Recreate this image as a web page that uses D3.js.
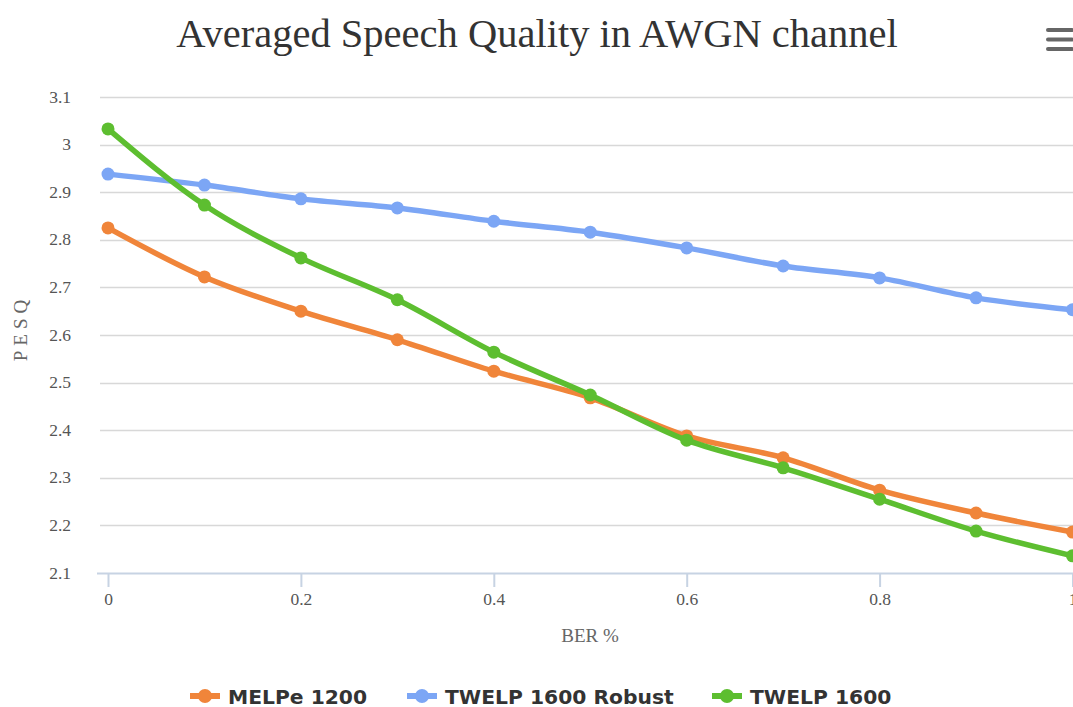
<!DOCTYPE html>
<html><head><meta charset="utf-8">
<script src="https://cdn.jsdelivr.net/npm/d3@7"></script>
<style>body{margin:0;background:#fff;overflow:hidden}</style>
</head><body>
<svg id="c" width="1073" height="707"></svg>
<script>
const berValues = [0, 0.1, 0.2, 0.3, 0.4, 0.5, 0.6, 0.7, 0.8, 0.9, 1];
const seriesNames = ["MELPe 1200", "TWELP 1600 Robust", "TWELP 1600"];
const melpe1200 = [2.825, 2.722, 2.650, 2.590, 2.524, 2.468, 2.388, 2.342, 2.274, 2.226, 2.186];
const twelpRobust = [2.938, 2.915, 2.886, 2.867, 2.839, 2.816, 2.783, 2.745, 2.720, 2.678, 2.653];
const twelp1600 = [3.033, 2.873, 2.762, 2.674, 2.564, 2.474, 2.379, 2.321, 2.255, 2.188, 2.136];
const yTicks = [2.1, 2.2, 2.3, 2.4, 2.5, 2.6, 2.7, 2.8, 2.9, 3, 3.1];
const xTicks = [0, 0.2, 0.4, 0.6, 0.8, 1];
const colors = ["#f0853a", "#7ca6f5", "#5dbe30"];

const svg = d3.select("#c");
const x = d3.scaleLinear().domain([0, 1]).range([108, 1072.5]);
const y = d3.scaleLinear().domain([2.1, 3.1]).range([573, 97]);
const serif = "'Liberation Serif', 'DejaVu Serif', serif";

// title
svg.append("text").attr("x", 537).attr("y", 47).attr("text-anchor", "middle")
  .attr("font-family", serif).attr("font-size", 40.5).attr("fill", "#333")
  .text("Averaged Speech Quality in AWGN channel");

// hamburger
[0, 1, 2].forEach(i => svg.append("rect").attr("x", 1046).attr("y", 28 + i * 9.5).attr("width", 28)
  .attr("height", 4).attr("rx", 2).attr("fill", "#666"));

// grid
svg.append("g").selectAll("line").data(yTicks.slice(1)).join("line")
  .attr("x1", 100).attr("x2", 1073).attr("y1", d => Math.round(y(d)) + 0.5).attr("y2", d => Math.round(y(d)) + 0.5)
  .attr("stroke", "#d8d8d8").attr("stroke-width", 1.5);

// y labels
svg.append("g").selectAll("text").data(yTicks).join("text")
  .attr("x", 71).attr("y", d => y(d) + 5.5).attr("text-anchor", "end")
  .attr("font-family", serif).attr("font-size", 17.5).attr("fill", "#555")
  .text(d => d3.format("")(d));

// x axis
const xa = svg.append("g").attr("transform", "translate(0,573)")
  .call(d3.axisBottom(x).tickValues(xTicks).tickSize(14).tickFormat(d3.format("")));
xa.select(".domain").remove();
xa.insert("line", ":first-child").attr("x1", 97).attr("x2", 1073).attr("y1", 0.5).attr("y2", 0.5)
  .attr("stroke", "#c7d3e3").attr("stroke-width", 2);
xa.selectAll(".tick line").attr("stroke", "#c7d3e3").attr("stroke-width", 2);
xa.selectAll(".tick text").attr("font-family", serif).attr("font-size", 17.5).attr("fill", "#555").attr("y", 20);

// axis titles
svg.append("text").attr("x", 590).attr("y", 642).attr("text-anchor", "middle")
  .attr("font-family", serif).attr("font-size", 19).attr("fill", "#666").text("BER %");
svg.append("text").attr("transform", "translate(27,328) rotate(-90)").attr("text-anchor", "middle")
  .attr("font-family", serif).attr("font-size", 19).attr("fill", "#666")
  .attr("letter-spacing", 5).text("PESQ");

// lines
const series = [melpe1200, twelpRobust, twelp1600];
const line = d3.line().x((d, i) => x(berValues[i])).y(d => y(d)).curve(d3.curveMonotoneX);
series.forEach((s, k) => {
  const g = svg.append("g");
  g.append("path").attr("d", line(s)).attr("fill", "none").attr("stroke", colors[k])
    .attr("stroke-width", 5.5).attr("stroke-linejoin", "round").attr("stroke-linecap", "round");
  g.selectAll("circle").data(s).join("circle")
    .attr("cx", (d, i) => x(berValues[i])).attr("cy", d => y(d)).attr("r", 6.5).attr("fill", colors[k]);
});

// legend
const legendX = [190, 407, 712];
seriesNames.forEach((n, k) => {
  const g = svg.append("g").attr("transform", `translate(${legendX[k]},696)`);
  g.append("line").attr("x1", 0).attr("x2", 30).attr("y1", 0).attr("y2", 0)
    .attr("stroke", colors[k]).attr("stroke-width", 6);
  g.append("circle").attr("cx", 15).attr("cy", 0).attr("r", 7).attr("fill", colors[k]);
  g.append("text").attr("x", 38).attr("y", 7.5).attr("font-family", "'DejaVu Sans',sans-serif")
    .attr("font-weight", "bold").attr("font-size", 20.3).attr("fill", "#333").text(n);
});
</script>
</body></html>
